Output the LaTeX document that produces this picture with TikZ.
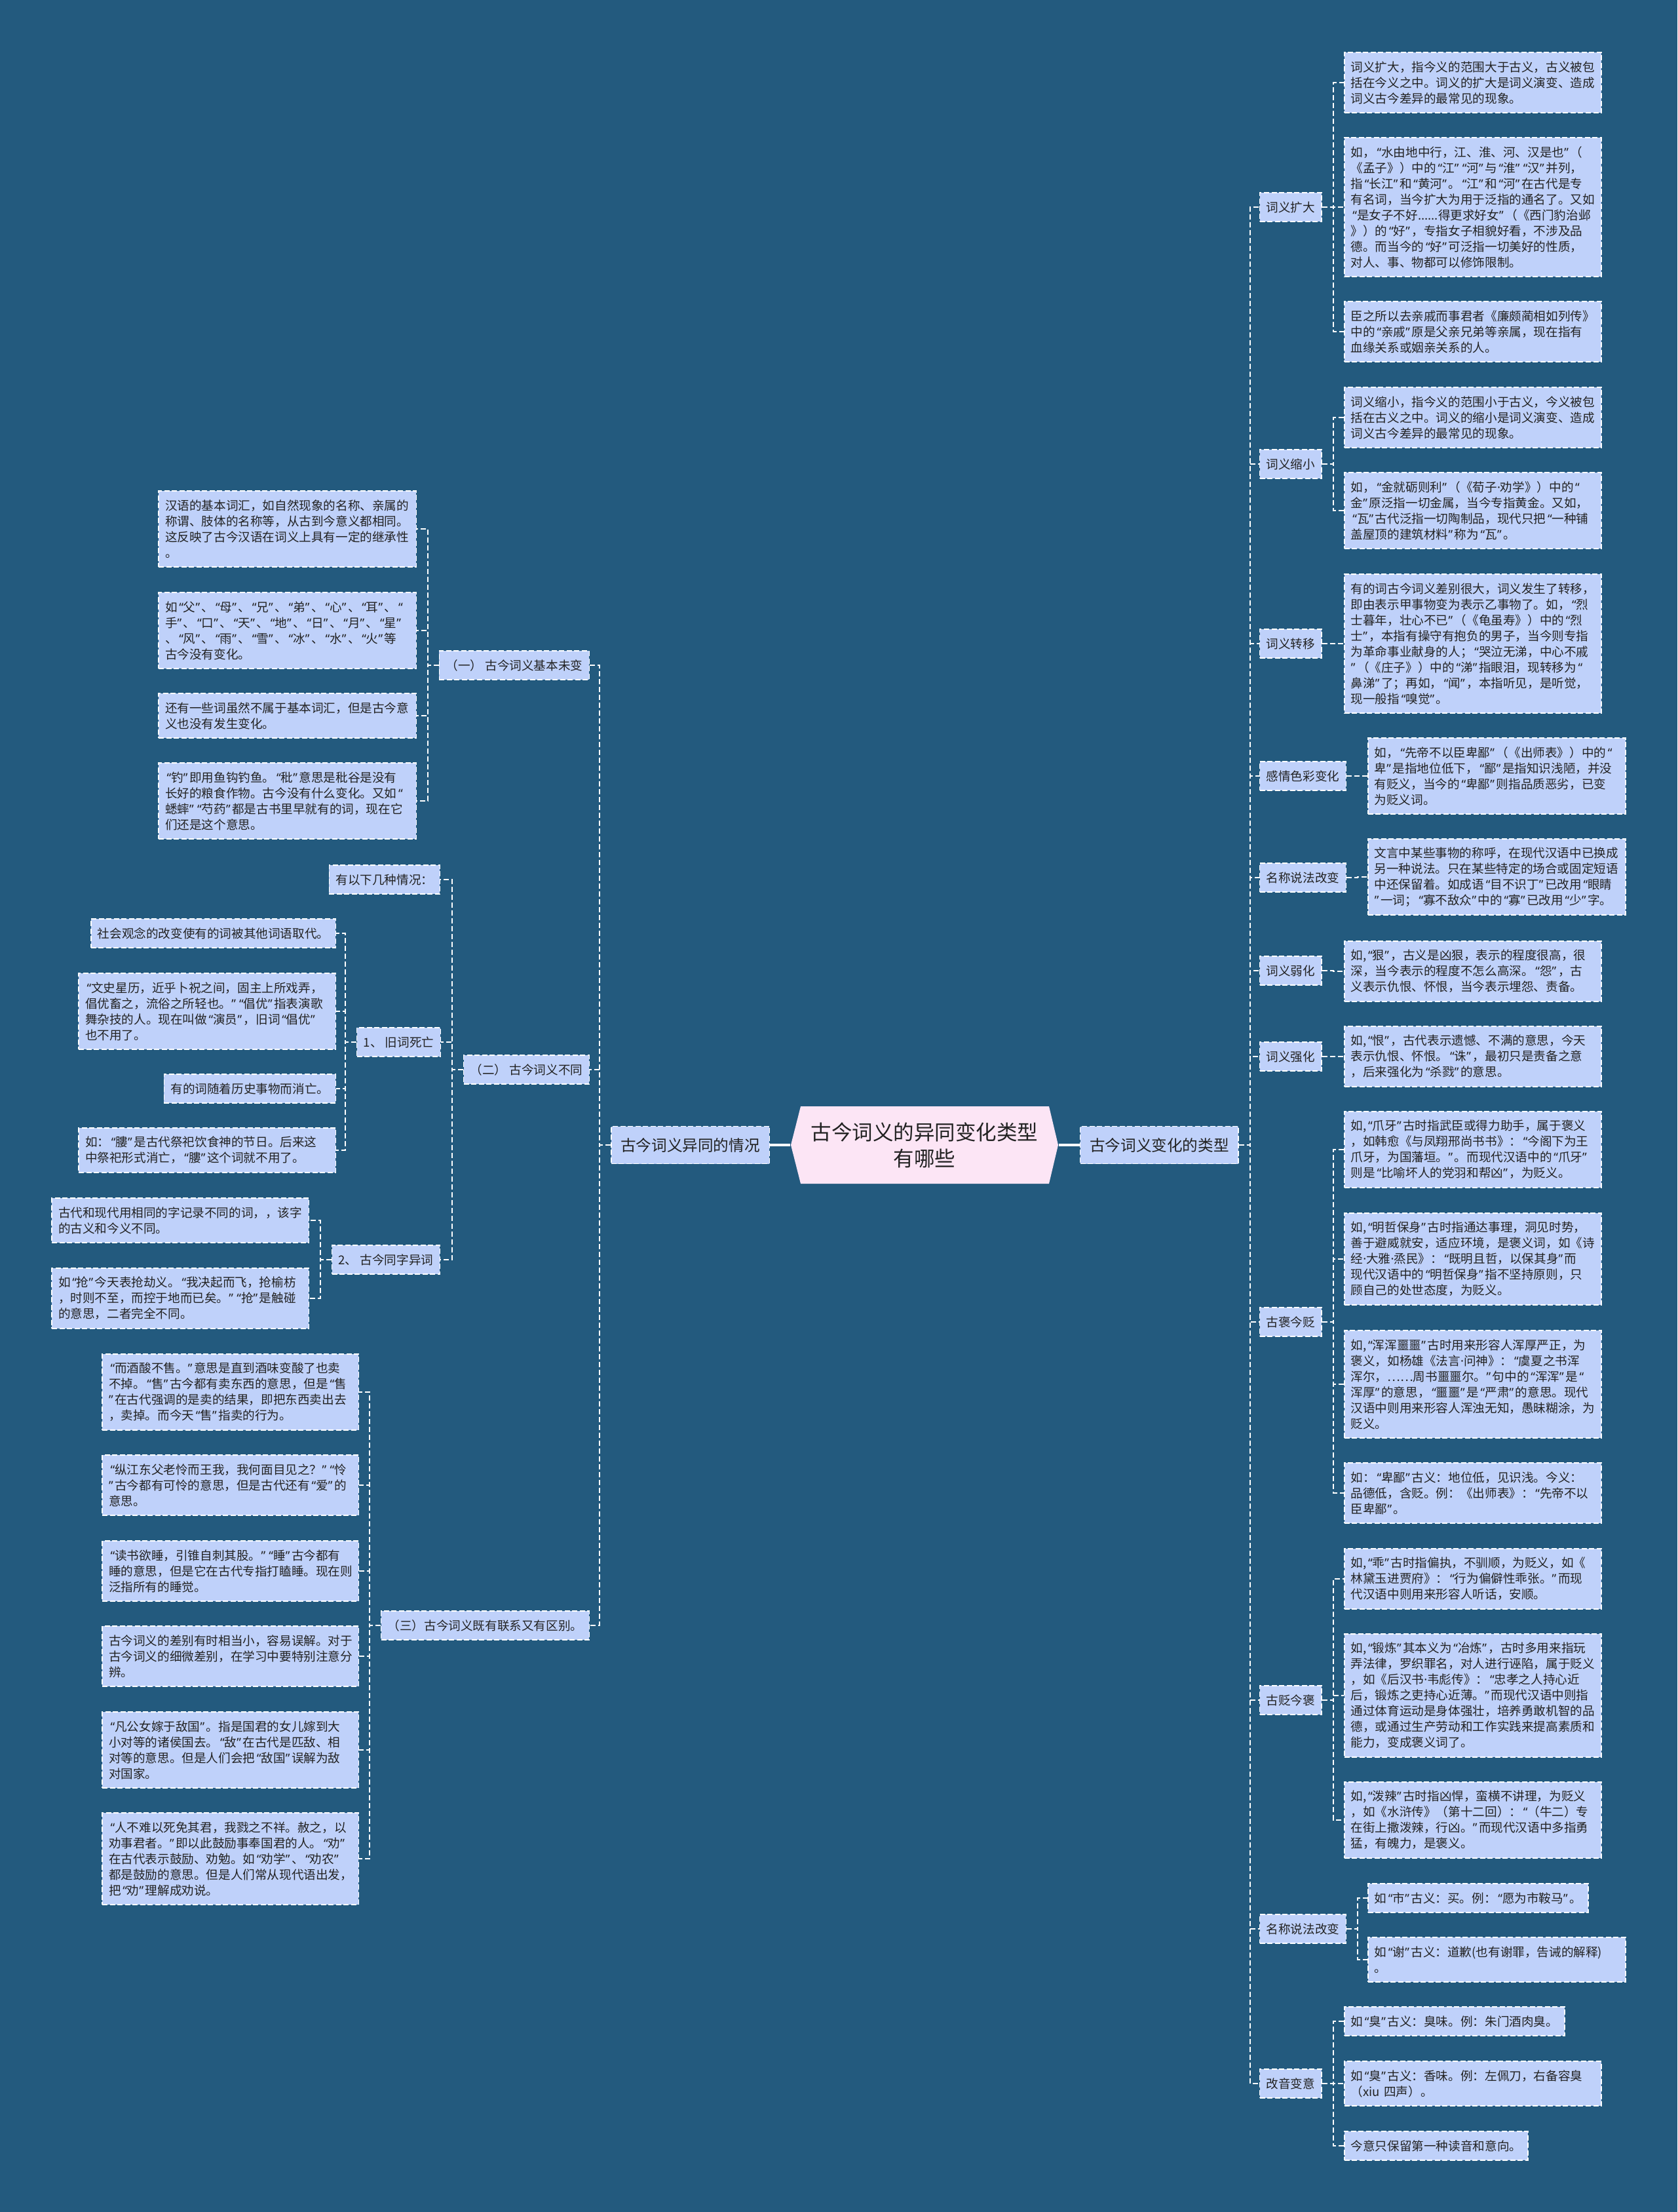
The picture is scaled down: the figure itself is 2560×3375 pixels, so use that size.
\documentclass[tikz,border=0pt]{standalone}
\usepackage{fontspec}
\newfontfamily\cjk{Noto Sans CJK SC}
\newfontfamily\qf{Noto Sans}
\usetikzlibrary{backgrounds}
\definecolor{bgc}{HTML}{235A7E}
\definecolor{leafc}{HTML}{BFD1FA}
\definecolor{rootc}{HTML}{FCE5F5}
\definecolor{txtc}{HTML}{222222}
\catcode`“=\active
\protected\def“{\makebox[0.5em][r]{\qf\char"201C}}
\catcode`”=\active
\protected\def”{\makebox[0.5em][l]{\qf\char"201D}}
\catcode`·=\active
\protected\def·{{\qf\char"00B7}}
\begin{document}
\begin{tikzpicture}[x=0.01cm,y=-0.01cm,
 box/.style={draw=white, line width=0.42pt, dash pattern=on 0.08cm off 0.035cm, fill=leafc, text=txtc, font=\cjk\fontsize{5.29}{6.83}\selectfont, inner xsep=0.1cm, inner ysep=0.03cm},
 leaf/.style={box, align=left},
 lab/.style={box, align=center, minimum height=0.44cm},
 mainn/.style={box, font=\cjk\fontsize{6.71}{8.5}\selectfont, inner xsep=0.145cm, minimum height=0.57cm},
 conn/.style={draw=white, line width=0.55pt, dash pattern=on 0.08cm off 0.04cm},
 rconn/.style={draw=white, line width=1.1pt},
 nA/.style={minimum height=0.44cm}, nB/.style={minimum height=0.68cm},
 nC/.style={minimum height=0.92cm}, nD/.style={minimum height=1.16cm},
 nE/.style={minimum height=1.40cm}, nF/.style={minimum height=1.64cm},
 nG/.style={minimum height=1.88cm}, nH/.style={minimum height=2.12cm},
 wR/.style={text width=3.72cm}, wW/.style={text width=3.73cm}, wS/.style={text width=3.71cm}
]
\useasboundingbox (0,0) rectangle (2560,3375);

% root
\fill[rootc] (1207,1747) -- (1222,1688) -- (1601,1688) -- (1615,1747) -- (1601,1806) -- (1222,1806) -- cycle;
\node[font=\cjk\fontsize{8.96}{11.38}\selectfont, text=txtc, align=center, minimum width=4.08cm, minimum height=1.18cm, inner sep=0pt] (root) at (1411,1747) {古今词义的异同变化类型\\有哪些};

\node[mainn, anchor=east] (ml) at (1175,1747) {古今词义异同的情况};
\node[mainn, anchor=west] (mr) at (1648,1747) {古今词义变化的类型};

% right labels
\node[lab, anchor=west] (k1) at (1922,316) {词义扩大};
\node[lab, anchor=west] (k2) at (1922,708) {词义缩小};
\node[lab, anchor=west] (k3) at (1922,982) {词义转移};
\node[lab, anchor=west] (k4) at (1922,1184) {感情色彩变化};
\node[lab, anchor=west] (k5) at (1922,1339) {名称说法改变};
\node[lab, anchor=west] (k6) at (1922,1481) {词义弱化};
\node[lab, anchor=west] (k7) at (1922,1612) {词义强化};
\node[lab, anchor=west] (k8) at (1922,2017) {古褒今贬};
\node[lab, anchor=west] (k9) at (1922,2594) {古贬今褒};
\node[lab, anchor=west] (k10) at (1922,2943) {名称说法改变};
\node[lab, anchor=west] (k11) at (1922,3179) {改音变意};

% right leaves
\node[leaf, wR, nC, anchor=west] (r1a) at (2051,126) {词义扩大，指今义的范围大于古义，古义被包\\括在今义之中。词义的扩大是词义演变、造成\\词义古今差异的最常见的现象。};
\node[leaf, wR, nH, anchor=west] (r1b) at (2051,316) {如，“水由地中行，江、淮、河、汉是也”（\\《孟子》）中的“江”“河”与“淮”“汉”并列，\\指“长江”和“黄河”。“江”和“河”在古代是专\\有名词，当今扩大为用于泛指的通名了。又如\\“是女子不好......得更求好女”（《西门豹治邺\\》）的“好”，专指女子相貌好看，不涉及品\\德。而当今的“好”可泛指一切美好的性质，\\对人、事、物都可以修饰限制。};
\node[leaf, wR, nC, anchor=west] (r1c) at (2051,506) {臣之所以去亲戚而事君者《廉颇蔺相如列传》\\中的“亲戚”原是父亲兄弟等亲属，现在指有\\血缘关系或姻亲关系的人。};
\node[leaf, wR, nC, anchor=west] (r2a) at (2051,637) {词义缩小，指今义的范围小于古义，今义被包\\括在古义之中。词义的缩小是词义演变、造成\\词义古今差异的最常见的现象。};
\node[leaf, wR, nD, anchor=west] (r2b) at (2051,779) {如，“金就砺则利”（《荀子·劝学》）中的“\\金”原泛指一切金属，当今专指黄金。又如，\\“瓦”古代泛指一切陶制品，现代只把“一种铺\\盖屋顶的建筑材料”称为“瓦”。};
\node[leaf, wR, nH, anchor=west] (r3) at (2051,982) {有的词古今词义差别很大，词义发生了转移，\\即由表示甲事物变为表示乙事物了。如，“烈\\士暮年，壮心不已”（《龟虽寿》）中的“烈\\士”，本指有操守有抱负的男子，当今则专指\\为革命事业献身的人；“哭泣无涕，中心不戚\\”（《庄子》）中的“涕”指眼泪，现转移为“\\鼻涕”了；再如，“闻”，本指听见，是听觉，\\现一般指“嗅觉”。};
\node[leaf, wW, nD, anchor=west] (r4) at (2087,1184) {如，“先帝不以臣卑鄙”（《出师表》）中的“\\卑”是指地位低下，“鄙”是指知识浅陋，并没\\有贬义，当今的“卑鄙”则指品质恶劣，已变\\为贬义词。};
\node[leaf, wW, nD, anchor=west] (r5) at (2087,1338) {文言中某些事物的称呼，在现代汉语中已换成\\另一种说法。只在某些特定的场合或固定短语\\中还保留着。如成语“目不识丁”已改用“眼睛\\”一词；“寡不敌众”中的“寡”已改用“少”字。};
\node[leaf, wR, nC, anchor=west] (r6) at (2051,1482) {如,“狠”，古义是凶狠，表示的程度很高，很\\深，当今表示的程度不怎么高深。“怨”，古\\义表示仇恨、怀恨，当今表示埋怨、责备。};
\node[leaf, wR, nC, anchor=west] (r7) at (2051,1612) {如,“恨”，古代表示遗憾、不满的意思，今天\\表示仇恨、怀恨。“诛”，最初只是责备之意\\，后来强化为“杀戮”的意思。};
\node[leaf, wR, nD, anchor=west] (r8a) at (2051,1754) {如,“爪牙”古时指武臣或得力助手，属于褒义\\，如韩愈《与凤翔邢尚书书》：“今阁下为王\\爪牙，为国藩垣。”。而现代汉语中的“爪牙”\\则是“比喻坏人的党羽和帮凶”，为贬义。};
\node[leaf, wR, nE, anchor=west] (r8b) at (2051,1921) {如,“明哲保身”古时指通达事理，洞见时势，\\善于避威就安，适应环境，是褒义词，如《诗\\经·大雅·烝民》：“既明且哲，以保其身”而\\现代汉语中的“明哲保身”指不坚持原则，只\\顾自己的处世态度，为贬义。};
\node[leaf, wR, nF, anchor=west] (r8c) at (2051,2112) {如,“浑浑噩噩”古时用来形容人浑厚严正，为\\褒义，如杨雄《法言·问神》：“虞夏之书浑\\浑尔，……周书噩噩尔。”句中的“浑浑”是“\\浑厚”的意思，“噩噩”是“严肃”的意思。现代\\汉语中则用来形容人浑浊无知，愚昧糊涂，为\\贬义。};
\node[leaf, wR, nC, anchor=west] (r8d) at (2051,2278) {如：“卑鄙”古义：地位低，见识浅。今义：\\品德低，含贬。例：《出师表》：“先帝不以\\臣卑鄙”。};
\node[leaf, wR, nC, anchor=west] (r9a) at (2051,2409) {如,“乖”古时指偏执，不驯顺，为贬义，如《\\林黛玉进贾府》：“行为偏僻性乖张。”而现\\代汉语中则用来形容人听话，安顺。};
\node[leaf, wR, nG, anchor=west] (r9b) at (2051,2587) {如,“锻炼”其本义为“冶炼”，古时多用来指玩\\弄法律，罗织罪名，对人进行诬陷，属于贬义\\，如《后汉书·韦彪传》：“忠孝之人持心近\\后，锻炼之吏持心近薄。”而现代汉语中则指\\通过体育运动是身体强壮，培养勇敢机智的品\\德，或通过生产劳动和工作实践来提高素质和\\能力，变成褒义词了。};
\node[leaf, wR, nD, anchor=west] (r9c) at (2051,2777) {如,“泼辣”古时指凶悍，蛮横不讲理，为贬义\\，如《水浒传》（第十二回）：“（牛二）专\\在街上撒泼辣，行凶。”而现代汉语中多指勇\\猛，有魄力，是褒义。};
\node[leaf, nA, anchor=west] (r10a) at (2087,2896) {如“市”古义：买。例：“愿为市鞍马”。};
\node[leaf, wW, nB, anchor=west] (r10b) at (2087,2990) {如“谢”古义：道歉(也有谢罪，告诫的解释)\\。};
\node[leaf, nA, anchor=west] (r11a) at (2051,3084) {如“臭”古义：臭味。例：朱门酒肉臭。};
\node[leaf, wR, nB, anchor=west] (r11b) at (2051,3179) {如“臭”古义：香味。例：左佩刀，右备容臭\\（xiu 四声）。};
\node[leaf, nA, anchor=west] (r11c) at (2051,3274) {今意只保留第一种读音和意向。};

% left labels
\node[lab, anchor=east] (g1) at (900,1015) {（一） 古今词义基本未变};
\node[lab, anchor=east] (g2) at (900,1632) {（二） 古今词义不同};
\node[lab, anchor=east] (g3) at (900,2480) {（三）古今词义既有联系又有区别。};
\node[lab, anchor=east] (h0) at (672,1342) {有以下几种情况：};
\node[lab, anchor=east] (h1) at (673,1590) {1、 旧词死亡};
\node[lab, anchor=east] (h2) at (672,1922) {2、 古今同字异词};

% left leaves
\node[leaf, wW, nD, anchor=east] (y1a) at (636,807) {汉语的基本词汇，如自然现象的名称、亲属的\\称谓、肢体的名称等，从古到今意义都相同。\\这反映了古今汉语在词义上具有一定的继承性\\。};
\node[leaf, wW, nD, anchor=east] (y1b) at (636,962) {如“父”、“母”、“兄”、“弟”、“心”、“耳”、“\\手”、“口”、“天”、“地”、“日”、“月”、“星”\\、“风”、“雨”、“雪”、“冰”、“水”、“火”等\\古今没有变化。};
\node[leaf, wW, nB, anchor=east] (y1c) at (636,1092) {还有一些词虽然不属于基本词汇，但是古今意\\义也没有发生变化。};
\node[leaf, wW, nD, anchor=east] (y1d) at (636,1222) {“钓”即用鱼钩钓鱼。“秕”意思是秕谷是没有\\长好的粮食作物。古今没有什么变化。又如“\\蟋蟀”“芍药”都是古书里早就有的词，现在它\\们还是这个意思。};
\node[leaf, nA, anchor=east] (j1) at (513,1424) {社会观念的改变使有的词被其他词语取代。};
\node[leaf, wR, nD, anchor=east] (j2) at (513,1543) {“文史星历，近乎卜祝之间，固主上所戏弄，\\倡优畜之，流俗之所轻也。”“倡优”指表演歌\\舞杂技的人。现在叫做“演员”，旧词“倡优”\\也不用了。};
\node[leaf, nA, anchor=east] (j3) at (513,1661) {有的词随着历史事物而消亡。};
\node[leaf, wR, nB, anchor=east] (j4) at (513,1755) {如：“膢”是古代祭祀饮食神的节日。后来这\\中祭祀形式消亡，“膢”这个词就不用了。};
\node[leaf, wR, nB, anchor=east] (t1) at (472,1862) {古代和现代用相同的字记录不同的词，，该字\\的古义和今义不同。};
\node[leaf, wR, nC, anchor=east] (t2) at (472,1981) {如“抢”今天表抢劫义。“我决起而飞，抢榆枋\\，时则不至，而控于地而已矣。”“抢”是触碰\\的意思，二者完全不同。};
\node[leaf, wS, nD, anchor=east] (s1) at (548,2124) {“而酒酸不售。”意思是直到酒味变酸了也卖\\不掉。“售”古今都有卖东西的意思，但是“售\\”在古代强调的是卖的结果，即把东西卖出去\\，卖掉。而今天“售”指卖的行为。};
\node[leaf, wS, nC, anchor=east] (s2) at (548,2266) {“纵江东父老怜而王我，我何面目见之？”“怜\\”古今都有可怜的意思，但是古代还有“爱”的\\意思。};
\node[leaf, wS, nC, anchor=east] (s3) at (548,2397) {“读书欲睡，引锥自刺其股。”“睡”古今都有\\睡的意思，但是它在古代专指打瞌睡。现在则\\泛指所有的睡觉。};
\node[leaf, wS, nC, anchor=east] (s4) at (548,2527) {古今词义的差别有时相当小，容易误解。对于\\古今词义的细微差别，在学习中要特别注意分\\辨。};
\node[leaf, wS, nD, anchor=east] (s5) at (548,2670) {“凡公女嫁于敌国”。指是国君的女儿嫁到大\\小对等的诸侯国去。“敌”在古代是匹敌、相\\对等的意思。但是人们会把“敌国”误解为敌\\对国家。};
\node[leaf, wS, nE, anchor=east] (s6) at (548,2836) {“人不难以死免其君，我戮之不祥。赦之，以\\劝事君者。”即以此鼓励事奉国君的人。“劝”\\在古代表示鼓励、劝勉。如“劝学”、“劝农”\\都是鼓励的意思。但是人们常从现代语出发，\\把“劝”理解成劝说。};

\begin{pgfonlayer}{background}
\fill[bgc] (0,0) rectangle (2560,3375);
\draw[rconn] (ml.east) -- (root.west);
\draw[rconn] (root.east) -- (mr.west);
\foreach \c in {k1,k2,k3,k4,k5,k6,k7,k8,k9,k10,k11}
  \draw[conn] (mr.east) -- ++(17,0) |- (\c.west);
\foreach \p/\c in {k1/r1a,k1/r1b,k1/r1c,k2/r2a,k2/r2b,k3/r3,k4/r4,k5/r5,k6/r6,k7/r7,k8/r8a,k8/r8b,k8/r8c,k8/r8d,k9/r9a,k9/r9b,k9/r9c,k10/r10a,k10/r10b,k11/r11a,k11/r11b,k11/r11c}
  \draw[conn] (\p.east) -- ++(17,0) |- (\c.west);
\foreach \c in {g1,g2,g3}
  \draw[conn] (ml.west) -- ++(-17,0) |- (\c.east);
\foreach \p/\c in {g1/y1a,g1/y1b,g1/y1c,g1/y1d,g2/h0,g2/h1,g2/h2,h1/j1,h1/j2,h1/j3,h1/j4,h2/t1,h2/t2,g3/s1,g3/s2,g3/s3,g3/s4,g3/s5,g3/s6}
  \draw[conn] (\p.west) -- ++(-17,0) |- (\c.east);
\end{pgfonlayer}
\end{tikzpicture}
\end{document}
